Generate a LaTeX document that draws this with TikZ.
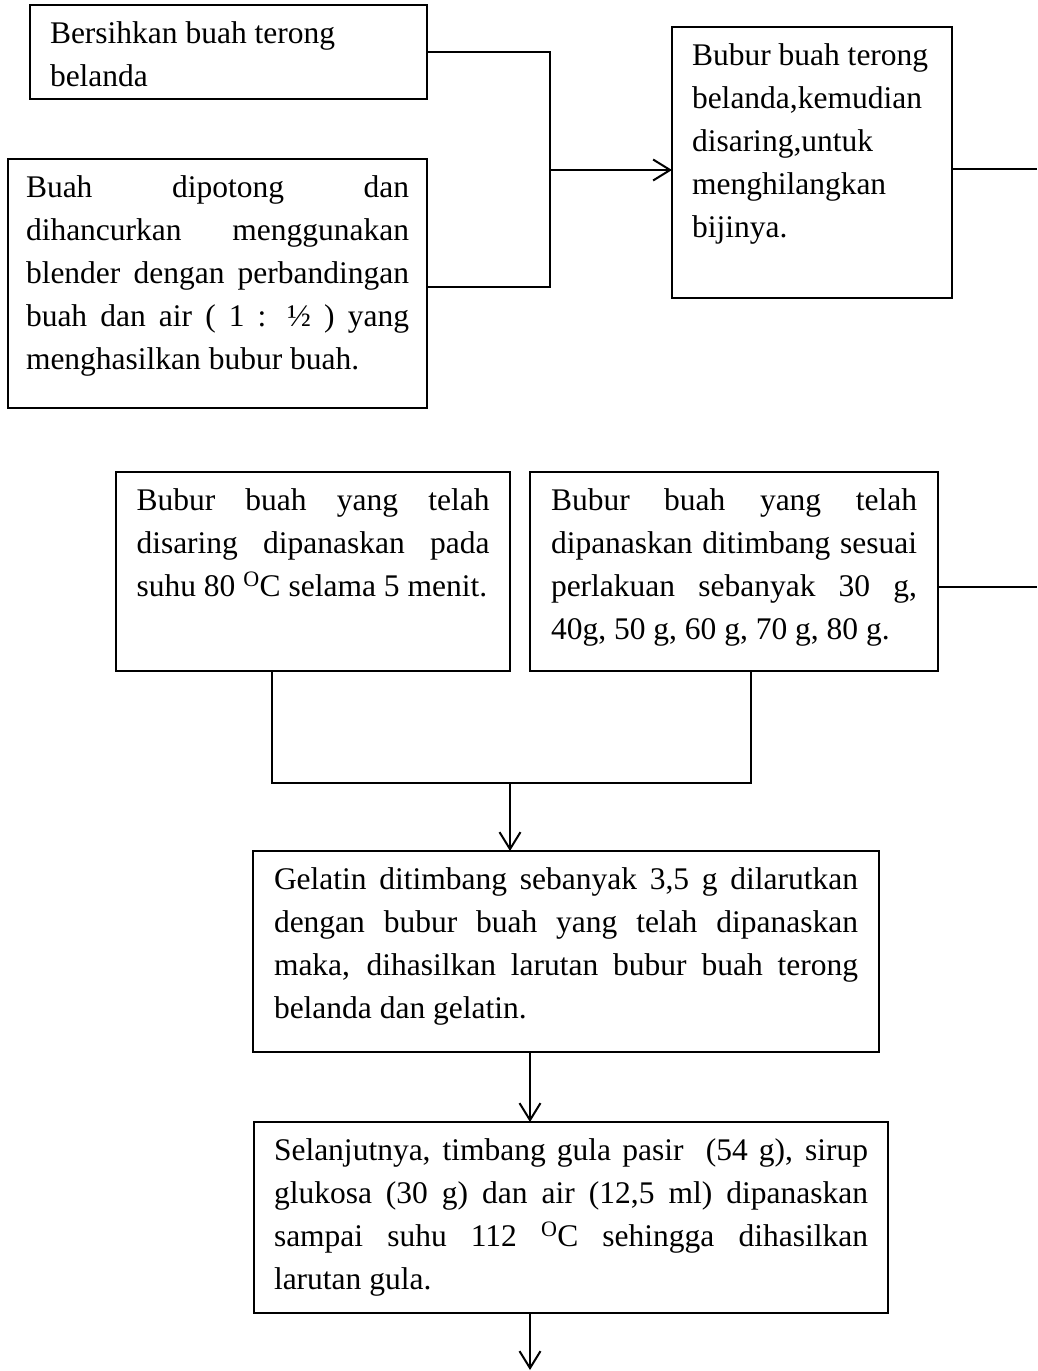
\documentclass[tikz,border=0pt]{standalone}
\usepackage{fontspec}
\setmainfont{Liberation Serif}
\usetikzlibrary{arrows.meta}
\newcommand\fs{\fontsize{31.5pt}{43pt}\selectfont}
\newcommand\jl[1]{\makebox[\linewidth][s]{#1}\\}
\newcommand\fst{\rule{0pt}{38pt}}
\newcommand\procbox[7]{%
 \pgfmathsetmacro\bw{#4-#2}%
 \pgfmathsetmacro\bh{#5-#3}%
 \pgfmathsetmacro\bx{(\bw-#6)/2}%
 \node[proc, inner xsep=\bx pt] (#1) at (#2,#3) {\parbox[c][\bh pt][t]{#6pt}{\fs #7}};}
\tikzset{
 proc/.style={draw, line width=1.3pt, anchor=north west, inner ysep=0pt, outer sep=0pt},
 conn/.style={line width=2pt},
 arr/.style={conn, -{Straight Barb[length=17pt,width=21pt]}}
}
\begin{document}
\begin{tikzpicture}[x=1pt,y=-1pt]
\fill[white] (0,0) rectangle (1037,1371);
\useasboundingbox (0,0) rectangle (1037,1371);

\procbox{b1}{30}{5}{427}{99}{357}{\fst Bersihkan buah terong\\belanda}
\procbox{b2}{8}{159}{427}{408}{383}{\jl{\fst Buah dipotong dan}\jl{dihancurkan menggunakan}\jl{blender dengan perbandingan}\jl{buah dan air ( 1 : ½ ) yang}menghasilkan bubur buah.}
\procbox{b3}{672}{27}{952}{298}{240}{\fst Bubur buah terong\\belanda,kemudian\\disaring,untuk\\menghilangkan\\bijinya.}
\procbox{b4}{116}{472}{510}{671}{353}{\jl{\fst Bubur buah yang telah}\jl{disaring dipanaskan pada}suhu 80 \textsuperscript{O}C selama 5 menit.}
\procbox{b5}{530}{472}{938}{671}{366}{\jl{\fst Bubur buah yang telah}\jl{dipanaskan ditimbang sesuai}\jl{perlakuan sebanyak 30 g,}40g, 50 g, 60 g, 70 g, 80 g.}
\procbox{b6}{253}{851}{879}{1052}{584}{\jl{\fst Gelatin ditimbang sebanyak 3,5 g dilarutkan}\jl{dengan bubur buah yang telah dipanaskan}\jl{maka, dihasilkan larutan bubur buah terong}belanda dan gelatin.}
\procbox{b7}{254}{1122}{888}{1313}{594}{\jl{\fst Selanjutnya, timbang gula pasir~ (54 g), sirup}\jl{glukosa (30 g) dan air (12,5 ml) dipanaskan}\jl{sampai suhu 112 \textsuperscript{O}C sehingga dihasilkan}larutan gula.}

\coordinate (j1) at (550,170);
\coordinate (j1b) at (550,287);
\draw[conn] (b1.east) -| (j1);
\draw[conn] (j1b -| b2.east) -- (j1b) -- (j1);
\draw[arr] (j1) -- (j1 -| b3.west);
\coordinate (e1) at (1037,169);
\draw[conn] (e1 -| b3.east) -- (e1);
\coordinate (e2) at (1037,587);
\draw[conn] (e2 -| b5.east) -- (e2);
\coordinate (c4) at (272,783);
\coordinate (c5) at (751,783);
\coordinate (j2) at (510,783);
\draw[conn] (c4 |- b4.south) -- (c4) -- (c5) -- (c5 |- b5.south);
\draw[arr] (j2) -- (j2 |- b6.north);
\coordinate (c6) at (530,1090);
\draw[arr] (c6 |- b6.south) -- (c6 |- b7.north);
\coordinate (e3) at (530,1370);
\draw[arr] (e3 |- b7.south) -- (e3);
\end{tikzpicture}
\end{document}
